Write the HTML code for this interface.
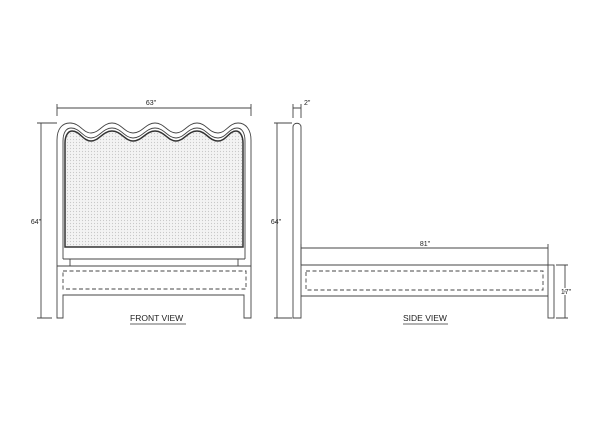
<!DOCTYPE html>
<html><head><style>html,body{margin:0;padding:0;background:#fff}svg{display:block}</style></head>
<body>
<svg width="600" height="424" viewBox="0 0 600 424" xmlns="http://www.w3.org/2000/svg" font-family="Liberation Sans, sans-serif">
<defs>
<pattern id="d" width="3" height="3" patternUnits="userSpaceOnUse"><rect width="3" height="3" fill="#f3f3f3"/><circle cx="1.5" cy="1.5" r="0.6" fill="#c8c8c8"/></pattern>
</defs>
<g fill="none" stroke="#444" stroke-width="0.9">
<!-- FRONT VIEW -->
<path d="M57,318 L57,140 C57,129 62,123 70,123 C80,123 83,133 91,133 C99,133 103,123 112,123 C121,123 125,133 133,133 C142,133 146,123 155,123 C164,123 168,133 176,133 C184,133 188,123 197,123 C206,123 209,133 218,133 C226,133 229,123 238,123 C246,123 251,130 251,140 L251,318 L244,318 L244,295 L63,295 L63,318 Z"/>
<path d="M63,259 L63,141 C63,133 66,128 71,128 C80,128 83,138 91,138 C99,138 103,128 112,128 C121,128 125,138 133,138 C142,138 146,128 155,128 C164,128 168,138 176,138 C184,138 188,128 197,128 C206,128 209,138 218,138 C226,138 229,128 237,128 C242,128 245,133 245,141 L245,259"/>
<path d="M65,247 L65,143 C65,136 68,131 72,131 C80,131 83,141 91,141 C99,141 103,131 112,131 C121,131 125,141 133,141 C142,141 146,131 155,131 C164,131 168,141 176,141 C184,141 188,131 197,131 C206,131 209,141 218,141 C226,141 229,131 236,131 C240,131 243,136 243,143 L243,247 Z" fill="url(#d)" stroke="#333" stroke-width="1.5"/>
<path d="M63,259 L245,259 M70,259 L70,266 M238,259 L238,266 M57,266 L251,266"/>
<rect x="63" y="271" width="183" height="18" stroke-dasharray="4,2.5"/>
<!-- dims front -->
<path d="M57,108 L251,108 M57,104 L57,116 M251,104 L251,116"/>
<path d="M41,123 L41,318 M37,123 L57,123 M37,318 L52,318"/>
<!-- SIDE VIEW -->
<path d="M293,318 L293,127 C293,122 301,122 301,127 L301,318 Z"/>
<path d="M301,265 L548,265 M301,296 L548,296"/>
<rect x="548" y="265" width="6" height="53"/>
<rect x="306" y="271" width="237" height="19" stroke-dasharray="4,2.5"/>
<path d="M293,108 L301,108 M293,104 L293,118 M301,104 L301,118"/>
<path d="M277,123 L277,318 M274,123 L292,123 M274,318 L292,318"/>
<path d="M301,248 L548,248 M301,244 L301,265 M548,244 L548,265"/>
<path d="M565,265 L565,318 M556,265 L568,265 M556,318 L568,318"/>
</g>
<g fill="#222" font-size="7">
<text x="151" y="105" text-anchor="middle">63"</text>
<text x="36" y="224" text-anchor="middle">64"</text>
<text x="304" y="105">2"</text>
<text x="276" y="224" text-anchor="middle">64"</text>
<text x="425" y="246" text-anchor="middle">81"</text>
<text x="566" y="294" text-anchor="middle" fill="#222" style="paint-order:stroke" stroke="#fff" stroke-width="2">17"</text>
</g>
<g fill="#222" font-size="8.5">
<text x="130" y="321">FRONT  VIEW</text>
<text x="403" y="321">SIDE  VIEW</text>
</g>
<path d="M130,324 L186,324 M403,324 L448,324" stroke="#333" stroke-width="0.7"/>
</svg>
</body></html>
